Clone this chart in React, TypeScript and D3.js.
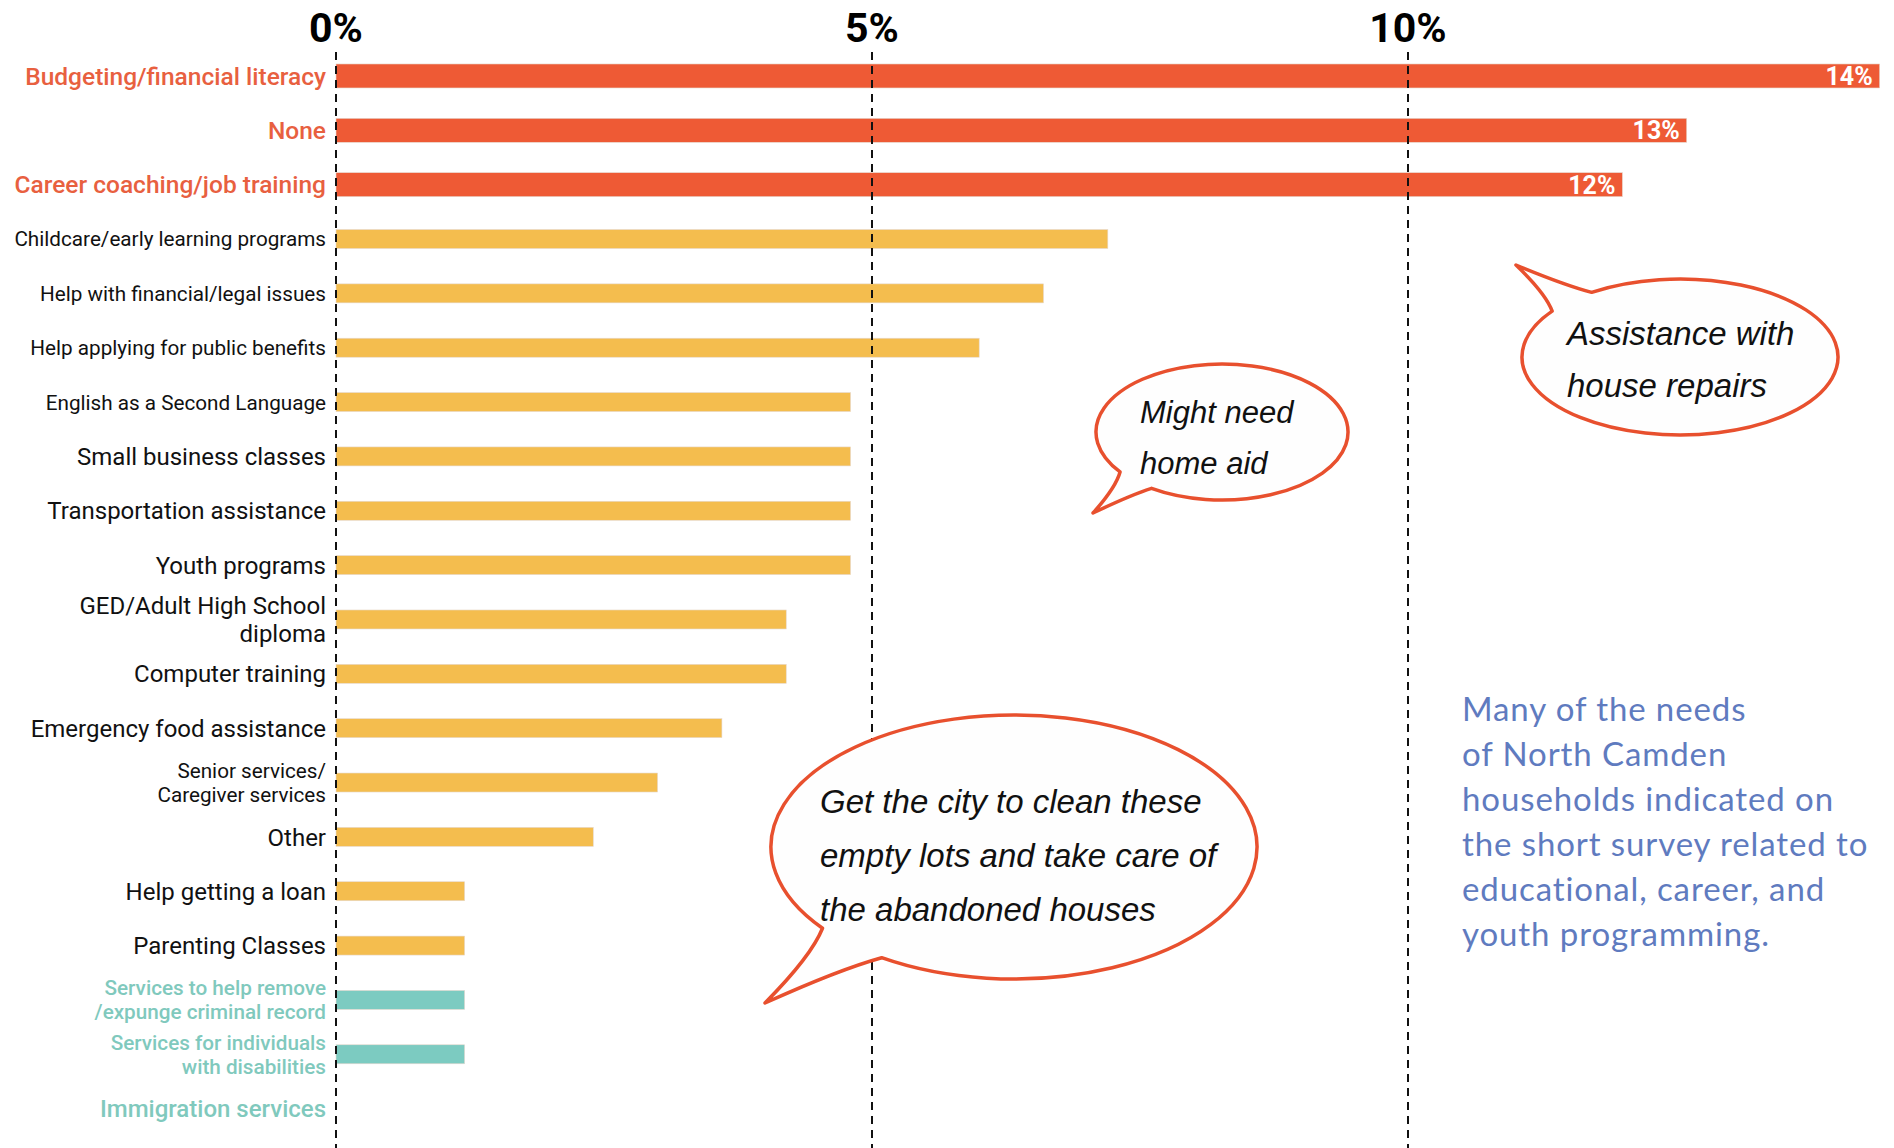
import React from "react";
import * as d3 from "d3";

const categories: string[] = [
  "Budgeting/financial literacy",
  "None",
  "Career coaching/job training",
  "Childcare/early learning programs",
  "Help with financial/legal issues",
  "Help applying for public benefits",
  "English as a Second Language",
  "Small business classes",
  "Transportation assistance",
  "Youth programs",
  "GED/Adult High School\ndiploma",
  "Computer training",
  "Emergency food assistance",
  "Senior services/\nCaregiver services",
  "Other",
  "Help getting a loan",
  "Parenting Classes",
  "Services to help remove\n/expunge criminal record",
  "Services for individuals\nwith disabilities",
  "Immigration services",
];

const values: number[] = [
  14.4, 12.6, 12.0, 7.2, 6.6, 6.0, 4.8, 4.8, 4.8, 4.8, 4.2, 4.2, 3.6, 3.0, 2.4,
  1.2, 1.2, 1.2, 1.2, 0,
];

const groups: string[] = [
  "top", "top", "top",
  "mid", "mid", "mid", "mid", "mid", "mid", "mid", "mid", "mid", "mid", "mid", "mid", "mid", "mid",
  "low", "low", "low",
];

const valueLabels: (string | null)[] = ["14%", "13%", "12%"];

const tickValues: number[] = [0, 5, 10];
const tickLabels: string[] = ["0%", "5%", "10%"];

const compactLabels = new Set<string>([
  "Childcare/early learning programs",
  "Help with financial/legal issues",
  "Help applying for public benefits",
  "English as a Second Language",
  "Senior services/\nCaregiver services",
  "Services to help remove\n/expunge criminal record",
  "Services for individuals\nwith disabilities",
]);

const bubbleQuotes: string[][] = [
  ["Might need", "home aid"],
  ["Assistance with", "house repairs"],
  ["Get the city to clean these", "empty lots and take care of", "the abandoned houses"],
];

const noteLines: string[] = [
  "Many of the needs",
  "of North Camden",
  "households indicated on",
  "the short survey related to",
  "educational, career, and",
  "youth programming.",
];

const W = 1894;
const H = 1148;

const colors: Record<string, string> = {
  top: "#EE5A35",
  mid: "#F4BD4E",
  low: "#7CCBC1",
};
const labelColors: Record<string, string> = {
  top: "#E8603F",
  mid: "#111111",
  low: "#80C9BD",
};

function bubblePath(
  cx: number, cy: number, rx: number, ry: number,
  t1: number, t2: number, tipX: number, tipY: number
) {
  const r = (d: number) => (d * Math.PI) / 180;
  const ax = cx + rx * Math.cos(r(t1));
  const ay = cy + ry * Math.sin(r(t1));
  const bx = cx + rx * Math.cos(r(t2));
  const by = cy + ry * Math.sin(r(t2));
  const mid1x = (bx + tipX) / 2 + (cx - (bx + tipX) / 2) * 0.08;
  const mid1y = (by + tipY) / 2 + (cy - (by + tipY) / 2) * 0.08;
  const mid2x = (ax + tipX) / 2 + (cx - (ax + tipX) / 2) * 0.08;
  const mid2y = (ay + tipY) / 2 + (cy - (ay + tipY) / 2) * 0.08;
  return (
    `M${ax},${ay} A${rx},${ry} 0 1 1 ${bx},${by} ` +
    `Q${mid1x},${mid1y} ${tipX},${tipY} Q${mid2x},${mid2y} ${ax},${ay} Z`
  );
}

const bubbleShapes = [
  { cx: 1222, cy: 432, rx: 126, ry: 68, t1: 144, t2: 124, tipX: 1093, tipY: 513, tx: 1140, ty: 423, lh: 51, fs: 31 },
  { cx: 1680, cy: 357, rx: 158, ry: 78, t1: 236, t2: 216, tipX: 1516, tipY: 265, tx: 1567, ty: 345, lh: 52, fs: 33 },
  { cx: 1014, cy: 847, rx: 243, ry: 132, t1: 142, t2: 123, tipX: 765, tipY: 1003, tx: 820, ty: 813, lh: 54, fs: 33 },
];

export default function App() {
  const x = d3.scaleLinear().domain([0, 10]).range([336, 1408]);
  const y = d3
    .scaleBand<string>()
    .domain(categories)
    .range([48.8, 48.8 + 54.35 * categories.length])
    .padding(0);
  const bw = y.bandwidth();

  return (
    <svg
      width={W}
      height={H}
      viewBox={`0 0 ${W} ${H}`}
      style={{ position: "fixed", left: 0, top: 0, background: "#fff" }}
      fontFamily="Roboto, 'Noto Sans', sans-serif"
    >
      <rect x={0} y={0} width={W} height={H} fill="#fff" />

      {categories.map((c, i) => {
        const g = groups[i];
        const h = g === "top" ? 24 : 19;
        const cy = (y(c) as number) + bw / 2;
        const w = x(values[i]) - x(0);
        if (w <= 0) return null;
        return (
          <rect
            key={"b" + i}
            x={x(0)}
            y={cy - h / 2}
            width={w}
            height={h}
            fill={colors[g]}
            stroke="#e6d9cf"
            strokeWidth={0.6}
          />
        );
      })}

      {categories.map((c, i) => {
        const lab = valueLabels[i];
        if (!lab) return null;
        const cy = (y(c) as number) + bw / 2;
        return (
          <text
            key={"v" + i}
            x={x(values[i]) - 7}
            y={cy}
            dy="0.36em"
            textAnchor="end"
            fill="#fff"
            fontWeight={700}
            fontSize={25}
          >
            {lab}
          </text>
        );
      })}

      {tickValues.map((t, i) => (
        <line
          key={"g" + i}
          x1={x(t)}
          x2={x(t)}
          y1={52}
          y2={H}
          stroke="#111"
          strokeWidth={2}
          strokeDasharray="8,6"
        />
      ))}

      {tickValues.map((t, i) => (
        <text
          key={"t" + i}
          x={x(t)}
          y={42}
          textAnchor="middle"
          fontWeight={700}
          fontSize={41}
          fill="#000"
        >
          {tickLabels[i]}
        </text>
      ))}

      {categories.map((c, i) => {
        const g = groups[i];
        const lines = c.split("\n");
        const cy = (y(c) as number) + bw / 2;
        const fs = compactLabels.has(c) ? 20.7 : g === "top" ? 24.5 : 24;
        const lh = fs * 1.17;
        return (
          <text
            key={"l" + i}
            x={326}
            textAnchor="end"
            fill={labelColors[g]}
            fontSize={fs}
            fontWeight={g === "mid" ? 400 : 500}
          >
            {lines.map((ln, j) => (
              <tspan
                key={j}
                x={326}
                y={cy + (j - (lines.length - 1) / 2) * lh}
                dy="0.36em"
              >
                {ln}
              </tspan>
            ))}
          </text>
        );
      })}

      {bubbleShapes.map((b, i) => (
        <g key={"s" + i}>
          <path
            d={bubblePath(b.cx, b.cy, b.rx, b.ry, b.t1, b.t2, b.tipX, b.tipY)}
            fill="#fefefe"
            stroke="#E8502E"
            strokeWidth={3.5}
            strokeLinejoin="round"
          />
          <text
            fontFamily="'Liberation Sans', Arial, sans-serif"
            fontStyle="italic"
            fontSize={b.fs}
            fill="#111"
          >
            {bubbleQuotes[i].map((ln, j) => (
              <tspan key={j} x={b.tx} y={b.ty + j * b.lh}>
                {ln}
              </tspan>
            ))}
          </text>
        </g>
      ))}

      <text
        fontFamily="Lato, 'Open Sans', sans-serif"
        fontSize={33}
        letterSpacing={0.9}
        fill="#5F7BBF"
      >
        {noteLines.map((ln, j) => (
          <tspan key={j} x={1462} y={721 + j * 45}>
            {ln}
          </tspan>
        ))}
      </text>
    </svg>
  );
}
